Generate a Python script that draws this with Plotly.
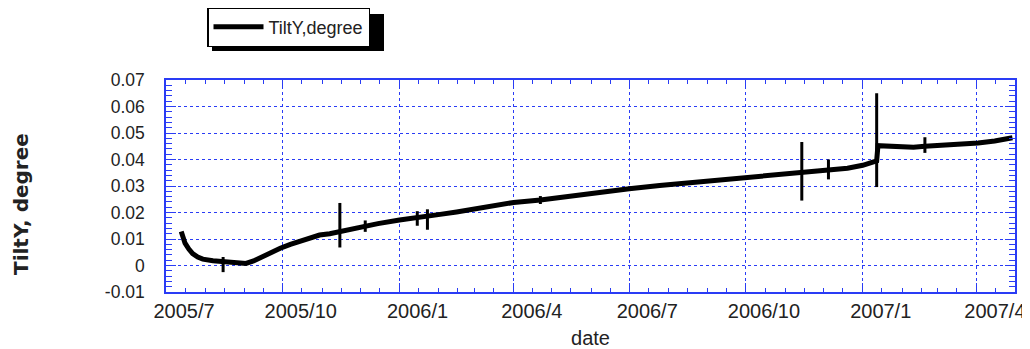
import plotly.graph_objects as go

# ---- data ----
dates = [
    "2005-07-13", "2005-07-16", "2005-07-19", "2005-07-22", "2005-07-26", "2005-07-30",
    "2005-08-07", "2005-08-15", "2005-08-22", "2005-08-28", "2005-09-02", "2005-09-08",
    "2005-09-13", "2005-09-21", "2005-09-29", "2005-10-07", "2005-10-14", "2005-10-22",
    "2005-10-30", "2005-11-07", "2005-11-15", "2005-11-23", "2005-12-01", "2005-12-15",
    "2006-01-01", "2006-01-15", "2006-01-23", "2006-02-02", "2006-02-15", "2006-03-03",
    "2006-03-15", "2006-04-01", "2006-04-22", "2006-05-15", "2006-06-07", "2006-07-01",
    "2006-07-25", "2006-08-19", "2006-09-10", "2006-10-01", "2006-10-20", "2006-11-14",
    "2006-12-05", "2006-12-20", "2007-01-01", "2007-01-10", "2007-01-12", "2007-01-13",
    "2007-01-25", "2007-02-10", "2007-02-19", "2007-03-05", "2007-03-20", "2007-04-02",
    "2007-04-15", "2007-04-29",
]
tilt_y = [
    0.0128, 0.0084, 0.0062, 0.0045, 0.0032, 0.0024,
    0.0018, 0.0014, 0.0010, 0.0006, 0.0008, 0.0017,
    0.0029, 0.0047, 0.0065, 0.0080, 0.0092, 0.0104,
    0.0115, 0.0120, 0.0128, 0.0135, 0.0146, 0.0158,
    0.0172, 0.0180, 0.0184, 0.0193, 0.0202, 0.0215,
    0.0224, 0.0238, 0.0247, 0.0262, 0.0276, 0.0290,
    0.0302, 0.0313, 0.0323, 0.0333, 0.0340, 0.0350,
    0.0360, 0.0367, 0.0378, 0.0392, 0.0395, 0.0452,
    0.0448, 0.0446, 0.0450, 0.0453, 0.0458, 0.0462,
    0.0470, 0.0482,
]

# short vertical excursions (spikes)
spike_dates = ["2005-08-15", "2005-11-15", "2005-12-05", "2006-01-15", "2006-01-23",
               "2006-04-22", "2006-11-14", "2006-12-05", "2007-01-12", "2007-02-19"]
spike_high = [0.0032, 0.0236, 0.0170, 0.0205, 0.0212,
              0.0262, 0.0466, 0.0400, 0.0650, 0.0484]
spike_low = [-0.0025, 0.0068, 0.0127, 0.0150, 0.0135,
             0.0232, 0.0245, 0.0325, 0.0296, 0.0425]

x_tickvals = ["2005-07-01", "2005-10-01", "2006-01-01", "2006-04-01",
              "2006-07-01", "2006-10-01", "2007-01-01", "2007-04-01"]
x_ticktext = ["2005/7", "2005/10", "2006/1", "2006/4",
              "2006/7", "2006/10", "2007/1", "2007/4"]
y_tickvals = [-0.01, 0, 0.01, 0.02, 0.03, 0.04, 0.05, 0.06, 0.07]
y_ticktext = ["-0.01", "0", "0.01", "0.02", "0.03", "0.04", "0.05", "0.06", "0.07"]

# half-month minor ticks
x_minor = []
for yr in (2005, 2006, 2007):
    for mo in range(1, 13):
        for d in (1, 16):
            x_minor.append(f"{yr}-{mo:02d}-{d:02d}")

sx, sy = [], []
for d, hi, lo in zip(spike_dates, spike_high, spike_low):
    sx += [d, d, None]
    sy += [hi, lo, None]

BLUE = "#2a3cf5"
FONT = "Liberation Sans"
OFF = 8                      # page body margin offset
W, H = 1030 - OFF, 349 - OFF
L, T = 166 - OFF, 80 - OFF
R, B = W - (1015 - OFF), H - (292 - OFF)
PW, PH = W - L - R, H - T - B


def px_x(x):  # window pixel -> paper
    return (x - OFF - L) / PW


def px_y(y):
    return (H - B - (y - OFF)) / PH


fig = go.Figure()
fig.add_trace(go.Scatter(
    x=dates, y=tilt_y, mode="lines", name="TiltY,degree",
    line=dict(color="black", width=5),
))
fig.add_trace(go.Scatter(
    x=sx, y=sy, mode="lines", showlegend=False, hoverinfo="skip",
    line=dict(color="black", width=3),
))

fig.update_layout(
    width=W, height=H,
    margin=dict(l=L, r=R, t=T, b=B, autoexpand=False),
    paper_bgcolor="white", plot_bgcolor="white",
    font=dict(family=FONT, color="#222"),
    showlegend=True,
    legend=dict(
        xref="container", yref="container",
        x=(207 - OFF) / W, y=1 - (27 - OFF) / H, xanchor="left", yanchor="middle",
        bgcolor="white", bordercolor="black", borderwidth=1.5,
        font=dict(family=FONT, size=18, color="#222"),
        itemwidth=50,
    ),
    shapes=[dict(
        type="rect", xref="paper", yref="paper", layer="below",
        x0=px_x(212), x1=px_x(384), y0=px_y(51), y1=px_y(14),
        fillcolor="black", line=dict(width=0),
    )],
    annotations=[dict(
        text="<b>TiltY, degree</b>", xref="paper", yref="paper",
        x=px_x(21), y=px_y(204), textangle=-90,
        xanchor="center", yanchor="middle",
        showarrow=False, font=dict(family="DejaVu Sans", size=20, color="#222"),
    )],
)

fig.update_xaxes(
    type="date", range=["2005-07-01", "2007-05-01"],
    tickmode="array", tickvals=x_tickvals, ticktext=x_ticktext,
    tickfont=dict(size=20, color="#222"),
    ticks="inside", ticklen=9, tickwidth=1.2, tickcolor=BLUE,
    ticklabelstandoff=0, ticklabelshift=18,
    showline=True, linecolor=BLUE, linewidth=1.5, mirror="allticks",
    showgrid=True, gridcolor=BLUE, gridwidth=1, griddash="dot",
    zeroline=False,
    minor=dict(tickmode="array", tickvals=x_minor, ticks="inside", ticklen=4,
               tickwidth=1.2, tickcolor=BLUE, showgrid=False),
    title=dict(text="date", font=dict(size=20, color="#222"), standoff=11),
)
fig.update_yaxes(
    range=[-0.01, 0.07],
    tickmode="array", tickvals=y_tickvals, ticktext=y_ticktext,
    tickfont=dict(size=17.5, color="#222"),
    ticks="inside", ticklen=10, tickwidth=1.2, tickcolor=BLUE,
    showline=True, linecolor=BLUE, linewidth=1.5, mirror="allticks",
    showgrid=True, gridcolor=BLUE, gridwidth=1, griddash="dot",
    zeroline=False, ticklabelstandoff=16,
    minor=dict(dtick=0.002, ticks="inside", ticklen=6, tickwidth=1.2,
               tickcolor=BLUE, showgrid=False),
)

fig.write_html("out.html")
